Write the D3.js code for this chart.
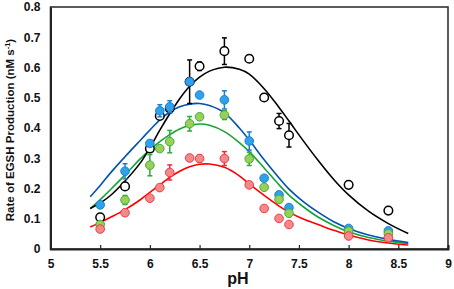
<!DOCTYPE html>
<html>
<head>
<meta charset="utf-8">
<script src="https://cdn.jsdelivr.net/npm/d3@7"></script>
<style>
  body { margin: 0; background: #fff; }
  svg text { font-family: "Liberation Sans", Arial, sans-serif; font-weight: bold; fill: #111; }
</style>
</head>
<body>
<div id="chart"></div>
<script>
const width = 454, height = 289;
const margin = ({top: 7, right: 6, bottom: 42, left: 50.5});

// measured data points (pH, rate, error)
const pHs = [5.5, 5.75, 6.0, 6.1, 6.2, 6.4, 6.5, 6.75, 7.0, 7.15, 7.3, 7.4, 8.0, 8.4];
const blackVals = [0.105, 0.207, 0.332, 0.44, 0.465, 0.553, 0.604, 0.654, 0.629, 0.501, 0.423, 0.376, 0.212, 0.127];
const blackErr  = [0, 0, 0, 0, 0.015, 0.072, 0.014, 0.044, 0, 0, 0.025, 0.039, 0.01, 0];
const blueVals  = [0.146, 0.257, 0.349, 0.457, 0.47, 0.553, 0.509, 0.493, 0.357, 0.234, 0.179, 0.137, 0.068, 0.06];
const blueErr   = [0, 0.025, 0.01, 0.02, 0.02, 0, 0, 0.03, 0.03, 0, 0, 0, 0, 0];
const greenVals = [0.081, 0.162, 0.277, 0.332, 0.355, 0.414, 0.437, 0.443, 0.298, 0.204, 0.164, 0.118, 0.059, 0.051];
const greenErr  = [0, 0.015, 0.035, 0, 0.037, 0.024, 0.01, 0.015, 0.022, 0, 0, 0, 0, 0];
const redVals   = [0.066, 0.12, 0.168, 0.203, 0.253, 0.301, 0.299, 0.299, 0.212, 0.134, 0.101, 0.081, 0.043, 0.037];
const redErr    = [0, 0, 0, 0, 0.025, 0.01, 0.012, 0.023, 0, 0, 0, 0, 0, 0];

// fitted curves
const fitPH    = [5.4, 5.5, 5.6, 5.75, 5.9, 6.0, 6.1, 6.2, 6.3, 6.4, 6.5, 6.6, 6.75, 6.9, 7.0, 7.15, 7.3, 7.4, 7.55, 7.7, 7.85, 8.0, 8.2, 8.4, 8.6];
const blackFit = [0.134, 0.152, 0.176, 0.225, 0.283, 0.335, 0.393, 0.447, 0.497, 0.538, 0.568, 0.588, 0.601, 0.594, 0.578, 0.53, 0.468, 0.423, 0.355, 0.29, 0.23, 0.179, 0.125, 0.084, 0.051];
const blueFit  = [0.173, 0.21, 0.25, 0.305, 0.358, 0.393, 0.427, 0.453, 0.47, 0.479, 0.481, 0.474, 0.45, 0.40, 0.36, 0.295, 0.235, 0.198, 0.155, 0.12, 0.09, 0.068, 0.046, 0.032, 0.021];
const greenFit = [0.133, 0.163, 0.195, 0.245, 0.297, 0.328, 0.355, 0.378, 0.397, 0.408, 0.413, 0.409, 0.388, 0.352, 0.322, 0.268, 0.212, 0.178, 0.138, 0.104, 0.078, 0.057, 0.038, 0.026, 0.018];
const redFit   = [0.073, 0.088, 0.104, 0.13, 0.162, 0.187, 0.212, 0.237, 0.257, 0.272, 0.28, 0.281, 0.27, 0.242, 0.215, 0.177, 0.142, 0.122, 0.098, 0.08, 0.062, 0.046, 0.03, 0.02, 0.013];

const xTicks = [5, 5.5, 6, 6.5, 7, 7.5, 8, 8.5, 9];
const yTicks = [0, 0.1, 0.2, 0.3, 0.4, 0.5, 0.6, 0.7, 0.8];

const x = d3.scaleLinear().domain([5, 9]).range([margin.left, width - margin.right]);
const y = d3.scaleLinear().domain([0, 0.8]).range([height - margin.bottom + 2, margin.top]);

const svg = d3.select("#chart").append("svg").attr("width", width).attr("height", height);

const line = d3.line().x((d, i) => x(fitPH[i])).y(d => y(d)).curve(d3.curveCatmullRom);

// frame
svg.append("rect")
  .attr("x", x(5)).attr("y", y(0.8))
  .attr("width", x(9) - x(5)).attr("height", y(0) - y(0.8))
  .attr("fill", "none").attr("stroke", "#333").attr("stroke-width", 1.6);

// x axis (ticks inside)
const xAxis = d3.axisBottom(x).tickValues(xTicks).tickSize(-4).tickPadding(10)
  .tickFormat(d => d3.format("")(d));
svg.append("g")
  .attr("transform", `translate(0,${y(0)})`)
  .call(xAxis)
  .call(g => g.select(".domain").attr("stroke", "#222").attr("stroke-width", 2))
  .call(g => g.selectAll(".tick line").attr("stroke", "#222").attr("stroke-width", 1.2))
  .call(g => g.selectAll("text").attr("font-size", 12).attr("fill", "#111")
    .attr("font-family", "Liberation Sans, Arial, sans-serif").attr("font-weight", "bold"));

// y axis
const yAxis = d3.axisLeft(y).tickValues(yTicks).tickSize(0).tickPadding(10)
  .tickFormat(d => d === 0 ? "0" : d3.format(".1f")(d));
svg.append("g")
  .attr("transform", `translate(${x(5)},0)`)
  .call(yAxis)
  .call(g => g.select(".domain").attr("stroke", "#222").attr("stroke-width", 2))
  .call(g => g.selectAll("text").attr("font-size", 12).attr("fill", "#111")
    .attr("font-family", "Liberation Sans, Arial, sans-serif").attr("font-weight", "bold"));

// axis titles
svg.append("text")
  .attr("x", 238).attr("y", height - 5)
  .attr("text-anchor", "middle").attr("font-size", 16)
  .text("pH");

const yl = svg.append("text")
  .attr("transform", `translate(14,${(y(0) + y(0.8)) / 2 + 2}) rotate(-90)`)
  .attr("text-anchor", "middle").attr("font-size", 11.5);
yl.append("tspan").text("Rate of EGSH Production (nM s");
yl.append("tspan").attr("font-size", 7.5).attr("dy", -4).text("-1");
yl.append("tspan").attr("dy", 4).text(")");

// series
const series = [
  {vals: blackVals, err: blackErr, fit: blackFit, line: "#000000", fill: "#ffffff", stroke: "#000000", bar: "#000000"},
  {vals: blueVals, err: blueErr, fit: blueFit, line: "#0052b4", fill: "#2ea3ea", stroke: "#1b7fd0", bar: "#1b7fd0"},
  {vals: greenVals, err: greenErr, fit: greenFit, line: "#17a336", fill: "#9ccf5a", stroke: "#3eae3a", bar: "#2fa83a"},
  {vals: redVals, err: redErr, fit: redFit, line: "#ff0000", fill: "#f28a8a", stroke: "#ec3a44", bar: "#e8303a"}
];

// fit lines behind the points
series.slice().reverse().forEach(s => {
  svg.append("path").datum(s.fit)
    .attr("d", line)
    .attr("fill", "none").attr("stroke", s.line).attr("stroke-width", 1.6);
});

// points: black, then blue, green, red on top
series.forEach((s, k) => {
  const g = svg.append("g");
  const pts = pHs.map((p, i) => ({p: p, v: s.vals[i], e: s.err[i]}));

  const eb = g.selectAll(".eb").data(pts.filter(d => d.e > 0)).enter().append("g")
    .attr("stroke", s.bar).attr("stroke-width", 1.5);
  eb.append("line").attr("x1", d => x(d.p)).attr("x2", d => x(d.p))
    .attr("y1", d => y(d.v - d.e)).attr("y2", d => y(d.v + d.e));
  eb.append("line").attr("x1", d => x(d.p) - 2.5).attr("x2", d => x(d.p) + 2.5)
    .attr("y1", d => y(d.v - d.e)).attr("y2", d => y(d.v - d.e));
  eb.append("line").attr("x1", d => x(d.p) - 2.5).attr("x2", d => x(d.p) + 2.5)
    .attr("y1", d => y(d.v + d.e)).attr("y2", d => y(d.v + d.e));

  g.selectAll("circle").data(pts).enter().append("circle")
    .attr("cx", d => x(d.p)).attr("cy", d => y(d.v)).attr("r", 4.3)
    .attr("fill", s.fill).attr("stroke", s.stroke).attr("stroke-width", k === 0 ? 1.5 : 1);
});
</script>
</body>
</html>
